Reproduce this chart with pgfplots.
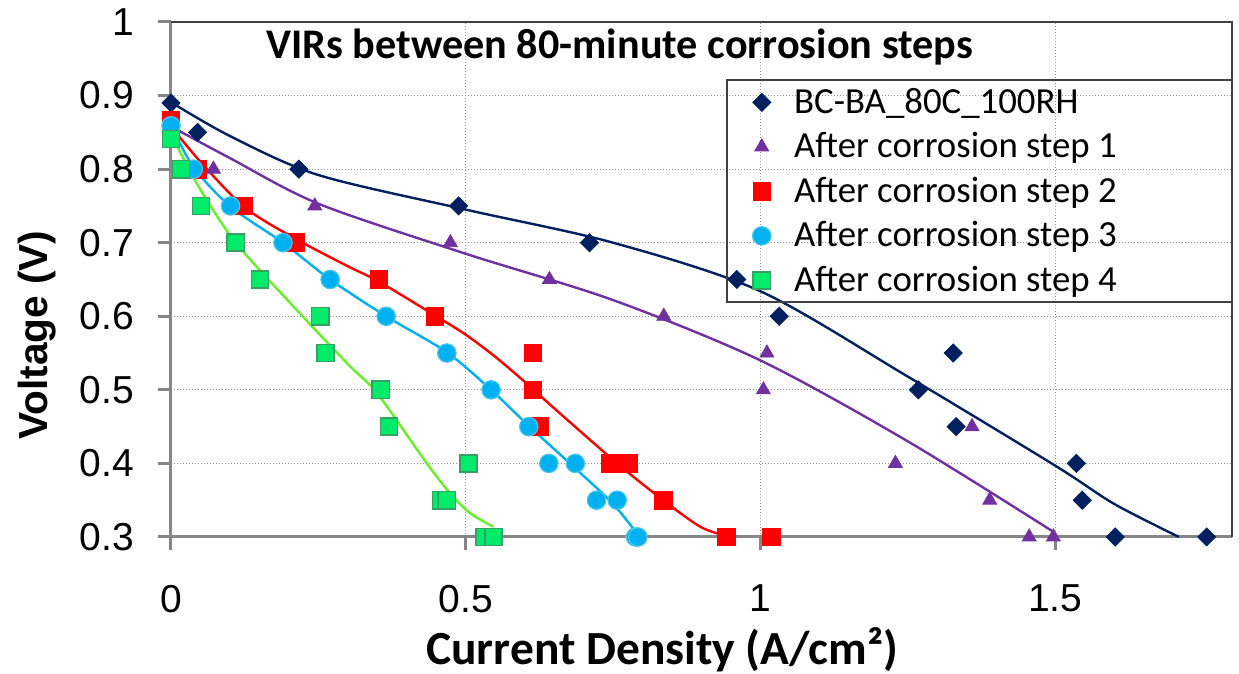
\documentclass[border=0pt]{standalone}
\usepackage{pgfplots}
\pgfplotsset{compat=1.18}
\usepackage{fontspec}
\setmainfont{Liberation Sans}
\newfontfamily\calibri{Carlito}

\definecolor{sNavy}{RGB}{0,32,96}
\definecolor{sPurple}{RGB}{112,48,160}
\definecolor{sRed}{RGB}{255,0,0}
\definecolor{sCyan}{RGB}{0,176,240}
\definecolor{sCyanEdge}{RGB}{70,200,230}
\definecolor{sGreen}{RGB}{0,235,105}
\definecolor{sGreenEdge}{RGB}{55,160,100}
\definecolor{sLime}{RGB}{102,240,40}
\definecolor{axisgray}{RGB}{134,134,134}
\definecolor{gridgray}{RGB}{150,150,150}
\definecolor{framegray}{RGB}{64,64,64}

% measured polarisation points
\pgfplotstableread{
x y
0     0.89
0.045 0.85
0.217 0.80
0.488 0.75
0.710 0.70
0.960 0.65
1.032 0.60
1.327 0.55
1.268 0.50
1.332 0.45
1.536 0.40
1.546 0.35
1.602 0.30
1.757 0.30
}\base
\pgfplotstableread{
x y
0     0.86
0.072 0.80
0.244 0.75
0.474 0.70
0.642 0.65
0.836 0.60
1.011 0.55
1.005 0.50
1.359 0.45
1.229 0.40
1.389 0.35
1.456 0.30
1.497 0.30
}\stepone
\pgfplotstableread{
x y
0     0.866
0.045 0.80
0.124 0.75
0.212 0.70
0.353 0.65
0.448 0.60
0.614 0.55
0.614 0.50
0.626 0.45
0.745 0.40
0.776 0.40
0.835 0.35
0.942 0.30
1.019 0.30
}\steptwo
\pgfplotstableread{
x y
0     0.859
0.038 0.80
0.101 0.75
0.190 0.70
0.270 0.65
0.365 0.60
0.468 0.55
0.543 0.50
0.607 0.45
0.641 0.40
0.686 0.40
0.722 0.35
0.757 0.35
0.788 0.30
0.792 0.30
}\stepthree
\pgfplotstableread{
x y
0     0.841
0.017 0.80
0.051 0.75
0.110 0.70
0.151 0.65
0.253 0.60
0.262 0.55
0.356 0.50
0.370 0.45
0.505 0.40
0.458 0.35
0.468 0.35
0.532 0.30
0.547 0.30
}\stepfour

% fitted trend curves
\pgfplotstableread{
x y
0     0.891
0.1   0.845
0.25  0.792
0.5   0.745
0.75  0.700
1.0   0.634
1.25  0.518
1.5   0.397
1.6   0.345
1.71  0.300
}\basefit
\pgfplotstableread{
x y
0     0.858
0.1   0.815
0.25  0.753
0.5   0.685
0.75  0.622
1.0   0.540
1.25  0.430
1.497 0.307
}\steponefit
\pgfplotstableread{
x y
0     0.858
0.05  0.810
0.125 0.748
0.212 0.705
0.30  0.668
0.353 0.647
0.45  0.600
0.50  0.575
0.55  0.545
0.60  0.511
0.65  0.475
0.757 0.400
0.835 0.350
0.90  0.313
0.95  0.300
}\steptwofit
\pgfplotstableread{
x y
0     0.860
0.038 0.803
0.101 0.749
0.19  0.700
0.27  0.650
0.365 0.600
0.468 0.551
0.543 0.500
0.607 0.451
0.689 0.391
0.75  0.345
0.795 0.300
}\stepthreefit
\pgfplotstableread{
x y
0     0.847
0.05  0.772
0.11  0.700
0.20  0.620
0.30  0.535
0.35  0.495
0.434 0.400
0.474 0.359
0.508 0.332
0.547 0.314
}\stepfourfit

\begin{document}
\begin{tikzpicture}
\begin{axis}[
  name=ax,
  scale only axis,
  width=530.5pt, height=257.5pt,
  xmin=0, xmax=1.8, ymin=0.3, ymax=1,
  xtick={0,0.5,1,1.5},
  ytick={0.3,0.4,0.5,0.6,0.7,0.8,0.9,1},
  axis lines*=left,
  axis line style={draw=axisgray, line width=1.5pt},
  tick align=outside,
  major tick length=6.5pt,
  tick style={draw=axisgray, line width=1.5pt},
  grid=major,
  major grid style={draw=gridgray, line width=0.6pt, dash pattern=on 0.7pt off 0.8pt},
  ticklabel style={font=\fontsize{19.5}{20}\selectfont},
  xticklabel style={yshift=-14pt},
  yticklabel style={xshift=-8.5pt},
  /pgf/number format/assume math mode=true,
  clip=false,
  xlabel={\calibri\bfseries Current Density (A/cm²)},
  xlabel style={font=\fontsize{23.75}{26}\selectfont, anchor=center,
    at={([yshift=-56.5pt]axis description cs:0.463,0)}},
  ylabel={\bfseries Voltage (V)},
  ylabel style={font=\fontsize{20.3}{22}\selectfont, anchor=center, rotate=0,
    at={([xshift=-67.2pt]axis description cs:0,0.392)}},
  legend style={draw=none, fill=none, inner sep=0pt,
    at={([xshift=9pt,yshift=-2pt]rel axis cs:0.524,0.8874)}, anchor=north west,
    font=\calibri\fontsize{18.4}{20}\selectfont,
    nodes={inner sep=0pt, text height=14.5pt, text depth=3.5pt},
    row sep=4.25pt, column sep=8pt},
  legend cell align=left,
  legend image code/.code={\path (-8pt,0pt) (8pt,0pt);
    \draw[#1] plot coordinates {(0pt,0pt)};},
]
\addplot[only marks, mark=square*, mark size=3.2pt,
  mark options={rotate=45, fill=sNavy, draw=sNavy}] table {\base};
\addlegendentry{BC-BA\_80C\_100RH}
\addplot[only marks, mark=triangle*, mark size=4.0pt,
  mark options={fill=sPurple, draw=sPurple}] table {\stepone};
\addlegendentry{After corrosion step 1}
\addplot[only marks, mark=square*, mark size=4.4pt,
  mark options={fill=sRed, draw=sRed}] table {\steptwo};
\addlegendentry{After corrosion step 2}
\addplot[only marks, mark=*, mark size=4.6pt,
  mark options={fill=sCyan, draw=sCyanEdge, line width=0.6pt}] table {\stepthree};
\addlegendentry{After corrosion step 3}
\addplot[only marks, mark=square*, mark size=4.3pt,
  mark options={fill=sGreen, draw=sGreenEdge, line width=0.8pt}] table {\stepfour};
\addlegendentry{After corrosion step 4}

\addplot[forget plot, smooth, no marks, draw=sNavy, line width=1.2pt] table {\basefit};
\addplot[forget plot, smooth, no marks, draw=sPurple, line width=1.2pt] table {\steponefit};
\addplot[forget plot, smooth, no marks, draw=sRed, line width=1.2pt] table {\steptwofit};
\addplot[forget plot, smooth, no marks, draw=sCyan, line width=1.2pt] table {\stepthreefit};
\addplot[forget plot, smooth, no marks, draw=sLime, line width=1.2pt] table {\stepfourfit};

% plot-area frame on the open sides and the legend box
\draw[framegray, line width=0.75pt] (rel axis cs:0,1) -- (rel axis cs:1,1) -- (rel axis cs:1,0);
\draw[framegray, line width=0.75pt] (rel axis cs:0.524,0.8874) rectangle (rel axis cs:1,0.4563);
\node[font=\calibri\bfseries\fontsize{21.1}{24}\selectfont, anchor=center]
  at ([yshift=-12.5pt]rel axis cs:0.423,1) {VIRs between 80-minute corrosion steps};
\end{axis}
\pgfresetboundingbox
\useasboundingbox ([xshift=-85.5pt,yshift=-68.5pt]ax.south west) rectangle ([xshift=3.5pt,yshift=11pt]ax.north east);
\end{tikzpicture}
\end{document}
